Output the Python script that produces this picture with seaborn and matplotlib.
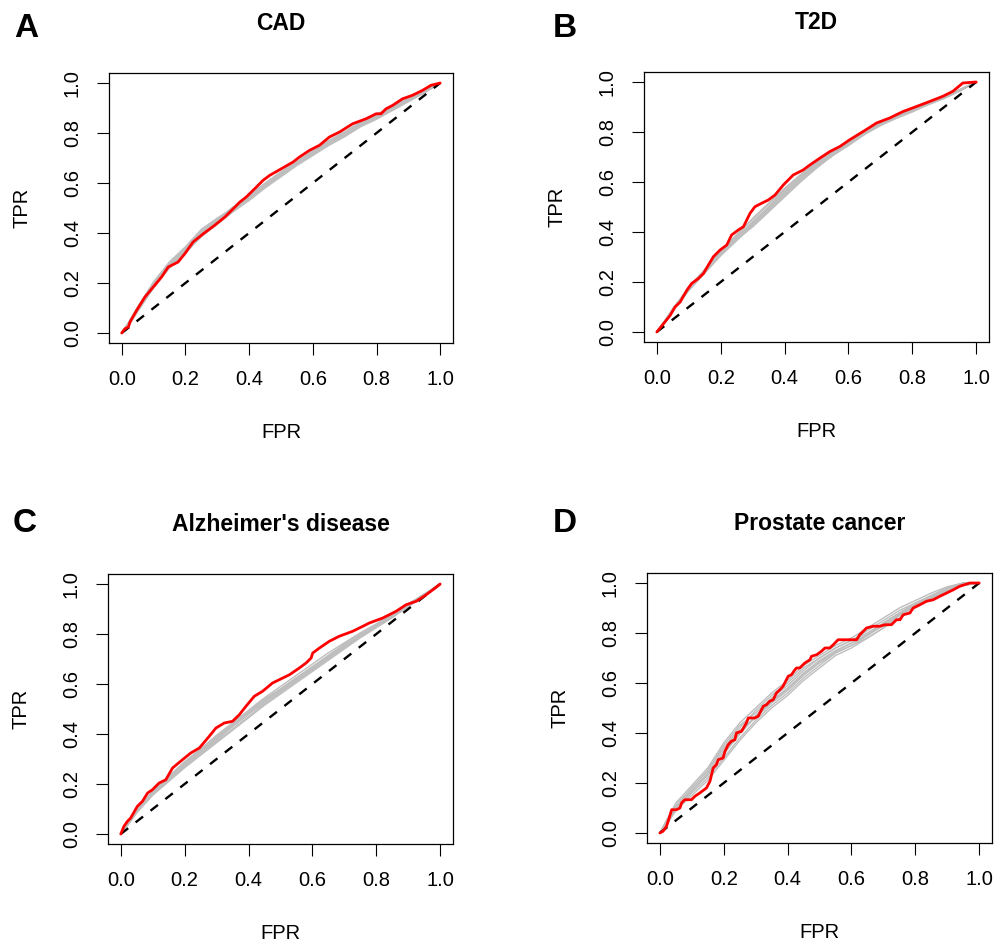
import numpy as np
import pandas as pd
import matplotlib
matplotlib.use('Agg')
import matplotlib.pyplot as plt
import seaborn as sns

sns.set_style('ticks')
plt.rcParams['font.family'] = ['Liberation Sans', 'DejaVu Sans']
plt.rcParams['text.color'] = 'black'
plt.rcParams['axes.labelcolor'] = 'black'
plt.rcParams['xtick.color'] = 'black'
plt.rcParams['ytick.color'] = 'black'
plt.rcParams['axes.edgecolor'] = 'black'

# common FPR grid for the grey (permuted) curves
fpr_grid = [0, 0.025, 0.05, 0.1, 0.15, 0.2, 0.25, 0.3, 0.35, 0.4, 0.45,
            0.5, 0.55, 0.6, 0.65, 0.7, 0.75, 0.8, 0.85, 0.9, 0.95, 1.0]

# ---- A: CAD ----
cad_red_fpr = [0, 0.010, 0.021, 0.026, 0.047, 0.073, 0.099, 0.125, 0.146, 0.177, 0.198,
               0.224, 0.256, 0.292, 0.324, 0.350, 0.371, 0.391, 0.423, 0.444, 0.465,
               0.501, 0.538, 0.558, 0.590, 0.621, 0.652, 0.684, 0.725, 0.767, 0.799,
               0.814, 0.830, 0.851, 0.882, 0.913, 0.945, 0.971, 1.0]
cad_red_tpr = [0, 0.017, 0.024, 0.044, 0.091, 0.144, 0.184, 0.224, 0.264, 0.284, 0.317,
               0.364, 0.397, 0.431, 0.464, 0.497, 0.524, 0.544, 0.584, 0.611, 0.631,
               0.657, 0.684, 0.704, 0.731, 0.751, 0.784, 0.804, 0.837, 0.857, 0.877,
               0.877, 0.897, 0.911, 0.937, 0.951, 0.971, 0.991, 1.0]
cad_gray = [
    [0, .05, .10, .20, .28, .34, .41, .45, .50, .545, .595, .64, .68, .72, .76, .795, .835, .865, .90, .93, .965, 1],
    [0, .04, .09, .19, .27, .33, .40, .44, .49, .535, .585, .63, .675, .715, .755, .79, .83, .86, .895, .93, .965, 1],
    [0, .045, .095, .195, .275, .335, .405, .455, .505, .55, .60, .645, .685, .725, .765, .80, .84, .87, .90, .935, .97, 1],
    [0, .035, .085, .18, .26, .32, .385, .435, .485, .53, .58, .625, .67, .71, .75, .785, .825, .855, .89, .925, .96, 1],
    [0, .05, .105, .205, .285, .345, .415, .46, .50, .54, .59, .635, .68, .72, .76, .80, .835, .87, .905, .935, .97, 1],
    [0, .04, .09, .185, .265, .325, .395, .445, .495, .545, .595, .64, .685, .73, .77, .805, .845, .875, .905, .94, .97, 1],
    [0, .045, .10, .20, .275, .34, .41, .455, .50, .54, .585, .63, .675, .715, .755, .79, .83, .86, .895, .93, .965, 1],
    [0, .04, .095, .19, .27, .33, .40, .45, .495, .54, .59, .635, .68, .72, .76, .795, .835, .865, .90, .935, .965, 1],
]

# ---- B: T2D ----
t2d_red_fpr = [0, 0.021, 0.042, 0.057, 0.073, 0.094, 0.109, 0.130, 0.146, 0.161, 0.177,
               0.198, 0.219, 0.234, 0.255, 0.271, 0.292, 0.307, 0.328, 0.349, 0.370,
               0.396, 0.427, 0.458, 0.479, 0.510, 0.542, 0.573, 0.604, 0.646, 0.688,
               0.729, 0.771, 0.813, 0.854, 0.896, 0.927, 0.958, 1.0]
t2d_red_tpr = [0, 0.033, 0.067, 0.100, 0.120, 0.167, 0.194, 0.214, 0.234, 0.267, 0.301,
               0.328, 0.348, 0.388, 0.408, 0.421, 0.475, 0.501, 0.515, 0.528, 0.548,
               0.588, 0.628, 0.648, 0.668, 0.695, 0.722, 0.742, 0.769, 0.802, 0.836,
               0.856, 0.882, 0.902, 0.922, 0.943, 0.963, 0.996, 1.0]
t2d_gray = [
    [0, .045, .09, .18, .245, .32, .38, .44, .50, .56, .62, .67, .715, .755, .795, .835, .86, .89, .915, .94, .97, 1],
    [0, .04, .085, .17, .24, .31, .37, .43, .49, .55, .61, .665, .71, .75, .79, .83, .86, .885, .91, .935, .965, 1],
    [0, .045, .095, .175, .25, .325, .39, .45, .51, .57, .625, .675, .72, .76, .80, .835, .865, .89, .915, .94, .97, 1],
    [0, .04, .085, .165, .235, .305, .365, .425, .485, .545, .605, .66, .705, .75, .79, .83, .855, .885, .91, .935, .965, 1],
    [0, .045, .09, .175, .245, .315, .375, .435, .495, .555, .615, .665, .71, .755, .795, .83, .86, .885, .91, .94, .97, 1],
    [0, .04, .09, .18, .25, .32, .385, .455, .515, .575, .63, .68, .72, .76, .80, .835, .865, .89, .915, .94, .97, 1],
    [0, .045, .085, .17, .24, .31, .37, .42, .48, .54, .60, .655, .705, .745, .79, .825, .855, .88, .91, .935, .965, 1],
    [0, .04, .09, .175, .245, .32, .38, .44, .50, .565, .62, .67, .715, .755, .795, .83, .86, .885, .915, .94, .97, 1],
]

# ---- C: Alzheimer's disease ----
alz_red_fpr = [0, 0.010, 0.021, 0.031, 0.052, 0.068, 0.084, 0.099, 0.120, 0.141, 0.162,
               0.193, 0.219, 0.246, 0.277, 0.298, 0.324, 0.350, 0.371, 0.392, 0.418,
               0.444, 0.475, 0.507, 0.528, 0.559, 0.580, 0.596, 0.601, 0.622, 0.653,
               0.684, 0.726, 0.758, 0.778, 0.820, 0.862, 0.893, 0.925, 0.956, 0.977, 1.0]
alz_red_tpr = [0, 0.031, 0.051, 0.064, 0.111, 0.131, 0.164, 0.177, 0.204, 0.217, 0.264,
               0.297, 0.324, 0.344, 0.391, 0.424, 0.444, 0.451, 0.477, 0.511, 0.551,
               0.571, 0.604, 0.624, 0.637, 0.664, 0.684, 0.704, 0.724, 0.744, 0.771,
               0.791, 0.811, 0.831, 0.844, 0.864, 0.891, 0.917, 0.931, 0.957, 0.977, 1.0]
alz_gray = [
    [0, .05, .09, .165, .22, .28, .33, .38, .43, .48, .53, .575, .62, .665, .71, .755, .795, .835, .875, .915, .955, 1],
    [0, .045, .085, .16, .215, .27, .32, .37, .42, .47, .52, .565, .61, .655, .70, .745, .79, .83, .87, .91, .955, 1],
    [0, .05, .095, .17, .23, .29, .34, .395, .445, .495, .545, .59, .635, .68, .725, .765, .805, .84, .88, .92, .96, 1],
    [0, .04, .085, .155, .21, .265, .315, .365, .415, .465, .515, .56, .605, .65, .695, .74, .785, .825, .865, .91, .955, 1],
    [0, .05, .095, .17, .225, .285, .34, .39, .44, .49, .54, .58, .625, .67, .715, .76, .80, .84, .88, .92, .96, 1],
    [0, .045, .09, .165, .22, .275, .325, .375, .43, .48, .535, .58, .625, .665, .71, .75, .795, .835, .875, .915, .955, 1],
    [0, .05, .09, .165, .225, .28, .335, .385, .435, .485, .535, .575, .62, .66, .705, .75, .79, .83, .87, .915, .955, 1],
    [0, .045, .09, .16, .215, .275, .33, .38, .43, .48, .525, .57, .615, .66, .705, .75, .79, .83, .87, .91, .955, 1],
]

# ---- D: Prostate cancer ----
pro_red_fpr = [0, 0.010, 0.021, 0.031, 0.037, 0.052, 0.063, 0.068, 0.078, 0.099, 0.110,
               0.125, 0.146, 0.157, 0.167, 0.177, 0.183, 0.198, 0.204, 0.214, 0.224,
               0.235, 0.240, 0.256, 0.271, 0.277, 0.297, 0.308, 0.313, 0.324, 0.334,
               0.344, 0.355, 0.365, 0.376, 0.386, 0.391, 0.402, 0.412, 0.423, 0.428,
               0.438, 0.454, 0.470, 0.475, 0.491, 0.506, 0.517, 0.532, 0.543, 0.558,
               0.616, 0.626, 0.647, 0.668, 0.689, 0.705, 0.725, 0.741, 0.752, 0.762,
               0.783, 0.793, 0.814, 0.835, 0.856, 0.877, 0.898, 0.919, 0.939, 0.971, 1.0]
pro_red_tpr = [0, 0.007, 0.027, 0.067, 0.093, 0.093, 0.100, 0.120, 0.133, 0.133, 0.147,
               0.160, 0.180, 0.207, 0.260, 0.273, 0.293, 0.300, 0.327, 0.353, 0.367,
               0.373, 0.400, 0.407, 0.440, 0.460, 0.460, 0.467, 0.480, 0.507, 0.513,
               0.527, 0.533, 0.560, 0.573, 0.587, 0.600, 0.627, 0.633, 0.653, 0.660,
               0.660, 0.680, 0.693, 0.707, 0.713, 0.727, 0.740, 0.740, 0.753, 0.773,
               0.773, 0.793, 0.820, 0.827, 0.827, 0.833, 0.833, 0.853, 0.853, 0.873,
               0.880, 0.900, 0.913, 0.927, 0.933, 0.947, 0.960, 0.973, 0.987, 1.0, 1.0]
pro_gray = [
    [0, .05, .10, .17, .23, .32, .40, .47, .53, .58, .64, .69, .73, .76, .79, .83, .87, .91, .94, .97, 1, 1],
    [0, .06, .11, .18, .25, .34, .42, .49, .55, .60, .66, .70, .74, .77, .81, .85, .89, .92, .95, .98, 1, 1],
    [0, .05, .09, .16, .22, .30, .38, .45, .51, .56, .62, .67, .72, .75, .78, .82, .86, .90, .935, .965, .99, 1],
    [0, .06, .12, .19, .26, .36, .44, .50, .56, .61, .67, .71, .75, .78, .82, .86, .90, .93, .96, .985, 1, 1],
    [0, .05, .10, .17, .24, .33, .41, .46, .52, .57, .63, .68, .72, .75, .79, .84, .88, .915, .945, .975, .995, 1],
    [0, .04, .09, .15, .21, .29, .37, .44, .50, .55, .61, .66, .71, .74, .78, .82, .87, .905, .935, .965, .99, 1],
    [0, .055, .11, .18, .25, .35, .43, .48, .54, .59, .65, .70, .74, .77, .80, .84, .88, .92, .95, .98, 1, 1],
    [0, .05, .10, .165, .235, .315, .395, .465, .525, .575, .635, .685, .725, .76, .795, .835, .875, .91, .94, .97, .995, 1],
]

panels = [
    ('A', 'CAD', cad_red_fpr, cad_red_tpr, cad_gray),
    ('B', 'T2D', t2d_red_fpr, t2d_red_tpr, t2d_gray),
    ('C', "Alzheimer's disease", alz_red_fpr, alz_red_tpr, alz_gray),
    ('D', 'Prostate cancer', pro_red_fpr, pro_red_tpr, pro_gray),
]

# axes rectangles [left, bottom, width, height] in figure fractions
rects = [
    [0.1093, 0.6374, 0.345, 0.2854],
    [0.6460, 0.6385, 0.346, 0.2854],
    [0.1083, 0.1078, 0.346, 0.2854],
    [0.6490, 0.1089, 0.346, 0.2854],
]
letter_pos = [(0.026, 0.970), (0.567, 0.970), (0.025, 0.447), (0.567, 0.447)]

fig = plt.figure(figsize=(9.97, 9.46), dpi=100)

for (letter, title, red_x, red_y, gray), rect, lp in zip(panels, rects, letter_pos):
    ax = fig.add_axes(rect)
    gray_df = pd.DataFrame({
        'FPR': fpr_grid * len(gray),
        'TPR': [v for g in gray for v in g],
        'run': [i for i, g in enumerate(gray) for _ in g],
    })
    sns.lineplot(data=gray_df, x='FPR', y='TPR', units='run', estimator=None,
                 sort=False, color='#bebebe', linewidth=1.0, ax=ax)
    ax.plot([0, 1], [0, 1], color='black', linestyle=(0, (4, 4)), linewidth=1.7, zorder=3)
    sns.lineplot(x=red_x, y=red_y, sort=False, estimator=None, color='#ff0000',
                 linewidth=2.0, ax=ax, zorder=4)

    ax.set_xlim(-0.04, 1.04)
    ax.set_ylim(-0.04, 1.04)
    ticks = [0.0, 0.2, 0.4, 0.6, 0.8, 1.0]
    ax.set_xticks(ticks)
    ax.set_yticks(ticks)
    ax.set_xticklabels([f'{t:.1f}' for t in ticks])
    ax.set_yticklabels([f'{t:.1f}' for t in ticks], rotation=90, va='center')
    ax.tick_params(length=8.5, width=0.8, labelsize=14.5, pad=11, color='black')
    for sp in ax.spines.values():
        sp.set_linewidth(0.9)
        sp.set_color('black')

    ax.set_xlabel('FPR', fontsize=14.5)
    ax.set_ylabel('TPR', fontsize=14.5)
    ax.xaxis.set_label_coords(0.5, -0.33)
    ax.xaxis.label.set_va('center')
    ax.yaxis.set_label_coords(-0.253, 0.5)
    ax.yaxis.label.set_va('center')

    ax.text(0.5, 1.185, title, transform=ax.transAxes, ha='center', va='center',
            fontsize=16.5, fontweight='bold')
    fig.text(lp[0], lp[1], letter, ha='center', va='center', fontsize=24, fontweight='bold')

fig.savefig('out.png', dpi=100)
